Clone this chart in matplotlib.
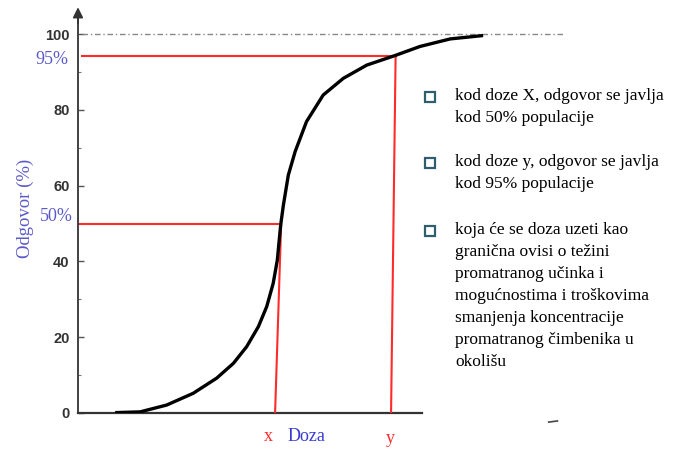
import numpy as np
import matplotlib.pyplot as plt

# dose-response curve (dose in arbitrary units, response in %)
dose = [9.8, 16.4, 23.4, 30.4, 36.6, 41.0, 44.5, 47.6, 49.8, 51.5, 52.6,
        53.1, 53.5, 54.2, 55.5, 57.3, 60.3, 64.7, 70.0, 76.2, 83.6, 90.2,
        98.2, 106.9]
response = [0.1, 0.3, 2.1, 5.2, 9.2, 13.1, 17.5, 22.8, 28.1, 34.2, 40.4,
            45.7, 49.8, 54.9, 62.8, 69.0, 76.9, 83.9, 88.3, 91.8, 94.3, 96.7,
            98.7, 99.6]

yticks = [0, 20, 40, 60, 80, 100]
minor_yticks = [10, 30, 50, 70, 90]

x_dose = [53.6, 52.0]   # top, bottom of the "x" marker line
y_dose = [83.8, 82.6]   # top, bottom of the "y" marker line
level_x = 49.8
level_y = 94.1

bullets = [
    "kod doze X, odgovor se javlja\nkod 50% populacije",
    "kod doze y, odgovor se javlja\nkod 95% populacije",
    "koja će se doza uzeti kao\ngranična ovisi o težini\npromatranog učinka i\n"
    "mogućnostima i troškovima\nsmanjenja koncentracije\npromatranog čimbenika u\nokolišu",
]

W, H = 675, 454
scale = 3.79  # px per unit
fig = plt.figure(figsize=(W / 100, H / 100), dpi=100, facecolor="white")
ax = fig.add_axes([78 / W, 41 / H, (W - 78) / W, 413 / H])
ax.set_xlim(0, (W - 78) / scale)
ax.set_ylim(0, 413 / scale)

blue = "#5a5ac8"
red = "#ff2a2a"
serif = ["Liberation Serif", "DejaVu Serif"]

# axes
for s in ["top", "right", "bottom"]:
    ax.spines[s].set_visible(False)
ax.spines["left"].set_bounds(0, 104)
ax.spines["left"].set_color("#333333")
ax.spines["left"].set_linewidth(1.3)
ax.annotate("", xy=(0, 107.8), xytext=(0, 102), annotation_clip=False,
            arrowprops=dict(arrowstyle="-|>", color="#333333", lw=1.3,
                            mutation_scale=15))
ax.plot([0, 90.8], [0, 0], color="#333333", lw=1.6, clip_on=False)
ax.plot([124.2, 126.5], [-2.4, -2.1], color="#444444", lw=1.2, clip_on=False)

ax.set_yticks(yticks)
ax.set_yticks(minor_yticks, minor=True)
ax.set_xticks([])
ax.tick_params(axis="y", which="major", direction="in", length=4, width=1,
               color="#555555", labelsize=10.5, labelcolor="#333333", pad=6)
ax.tick_params(axis="y", which="minor", direction="in", length=2.5, width=0.8,
               color="#777777")
for lbl in ax.get_yticklabels():
    lbl.set_fontfamily("Liberation Sans")
    lbl.set_fontweight("bold")

# dotted 100% line
ax.plot([1, 128.5], [100, 100], color="#888888", lw=1.0, ls=(0, (4, 2, 1, 2)))

# red guide lines
ax.plot([-1, x_dose[0]], [level_x, level_x], color=red, lw=1.5)
ax.plot(x_dose, [level_x, 0], color=red, lw=1.5)
ax.plot([1, y_dose[0]], [level_y, level_y], color=red, lw=1.5)
ax.plot(y_dose, [level_y, 0], color=red, lw=1.5)

# curve
ax.plot(dose, response, color="black", lw=2.4, solid_capstyle="butt",
        solid_joinstyle="round", zorder=5)

ax.text(-2.5, level_y - 0.8, "95%", color=blue, fontsize=13, family=serif,
        ha="right", va="center", clip_on=False)
ax.text(-1.5, level_x + 2.0, "50%", color=blue, fontsize=13, family=serif,
        ha="right", va="center", clip_on=False)
ax.text(-14.0, 54.1, "Odgovor (%)", color=blue, fontsize=13.5, family=serif,
        rotation=90, ha="center", va="center", clip_on=False)

ax.text(50.1, -6.3, "x", color=red, fontsize=13, family=serif,
        ha="center", va="center", clip_on=False)
ax.text(60.4, -6.3, "Doza", color="#3a3ad0", fontsize=13, family=serif,
        ha="center", va="center", clip_on=False)
ax.text(82.3, -6.8, "y", color=red, fontsize=13, family=serif,
        ha="center", va="center", clip_on=False)

# bullet list (first-line centres in pixels)
centres = [97, 163, 231]
for c, txt in zip(centres, bullets):
    fig.text(455 / W, 1 - (c - 9) / H, txt, fontsize=12.5, family=serif,
             color="black", ha="left", va="top", linespacing=1.5)
    fig.patches.append(plt.Rectangle((425 / W, 1 - (c + 5) / H), 10 / W, 10 / H,
                                     transform=fig.transFigure, fill=False,
                                     edgecolor="#2f5f6f", lw=1.6))

fig.savefig("out.png", dpi=100, facecolor="white")
